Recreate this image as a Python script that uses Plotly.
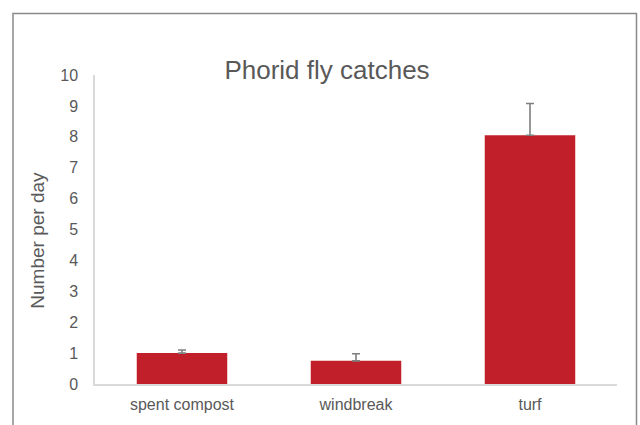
import plotly.graph_objects as go

categories = ["spent compost", "windbreak", "turf"]
values = [1.0, 0.75, 8.05]
errors_plus = [0.1, 0.23, 1.03]
errors_minus = [0, 0, 0]
y_ticks = list(range(0, 11))

TEXT = "#595959"
FONT = "Liberation Sans, Arial, Helvetica, sans-serif"

W, H = 640, 425
PL, PR, PT, PB = 95, 617, 75, 392  # plot area in layout pixels
PW, PH = PR - PL, PB - PT

fig = go.Figure(
    go.Bar(
        x=categories,
        y=values,
        marker=dict(color="#C1202A", line=dict(width=0)),
        error_y=dict(
            type="data",
            symmetric=False,
            array=errors_plus,
            arrayminus=errors_minus,
            color="#7f7f7f",
            thickness=1.6,
            width=4,
        ),
    )
)

fig.update_layout(
    width=W,
    height=H,
    margin=dict(l=PL, r=W - PR, t=PT, b=H - PB),
    paper_bgcolor="white",
    plot_bgcolor="white",
    bargap=0.48,
    showlegend=False,
    font=dict(family=FONT, color=TEXT, size=16),
    title=dict(
        text="Phorid fly catches",
        font=dict(family=FONT, color=TEXT, size=26),
        x=327 / W,
        xanchor="center",
        xref="container",
        y=1 - 70 / H,
        yanchor="middle",
        yref="container",
    ),
    shapes=[
        dict(
            type="rect",
            xref="paper",
            yref="paper",
            x0=(13 - PL) / PW,
            x1=(636.5 - PL) / PW,
            y0=(PB - 450) / PH,
            y1=(PB - 12) / PH,
            line=dict(color="#8a8a8a", width=1.5),
            fillcolor="rgba(0,0,0,0)",
            layer="below",
        )
    ],
    annotations=[
        dict(
            text="Number per day",
            textangle=-90,
            xref="paper",
            yref="paper",
            x=(38 - PL) / PW,
            y=(PB - 245) / PH,
            xanchor="center",
            yanchor="middle",
            showarrow=False,
            font=dict(family=FONT, color=TEXT, size=19),
        )
    ],
)

fig.update_xaxes(
    showline=True,
    linecolor="#D9D9D9",
    linewidth=1.5,
    showgrid=False,
    ticks="",
    ticklabelstandoff=5,
    tickfont=dict(family=FONT, color=TEXT, size=16),
)

fig.update_yaxes(
    range=[0, 10],
    tickvals=y_ticks,
    ticktext=[str(t) for t in y_ticks],
    showline=True,
    linecolor="#D9D9D9",
    linewidth=1.5,
    showgrid=False,
    zeroline=False,
    ticks="",
    ticklabelstandoff=12,
    tickfont=dict(family=FONT, color=TEXT, size=16),
)

fig.write_html(
    "out.html",
    config={"displayModeBar": False},
    post_script="document.body.style.margin='0';document.body.style.overflow='hidden';",
)
